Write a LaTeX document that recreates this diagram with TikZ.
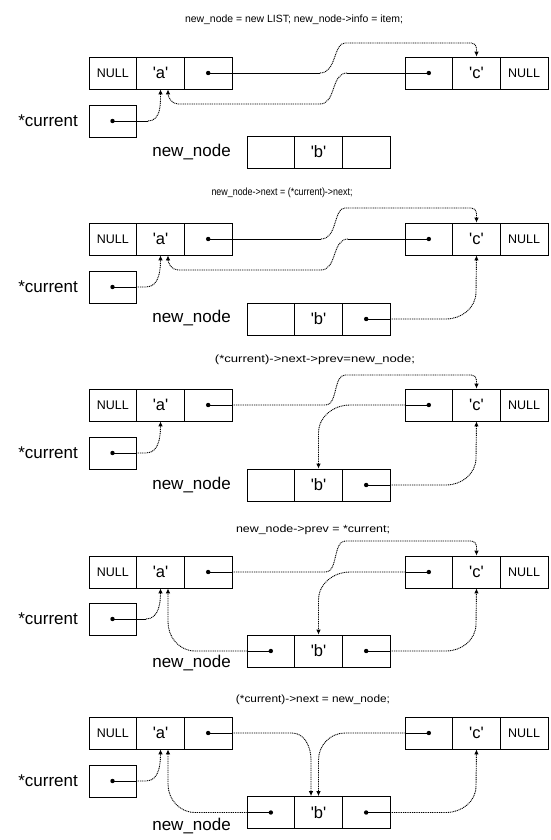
\documentclass[tikz,border=0pt]{standalone}
\usepackage{fontspec}
\usepackage{graphicx}
\setmainfont{Liberation Sans}
\usetikzlibrary{arrows.meta,calc}
\newcommand\qs{\textquotesingle}
\newcommand\NULLtxt{{\fontsize{12.5}{12.5}\selectfont NULL}}
\newcommand\mklist[6]{%
  \node[cell] (#1-l) at ({#2+23.83},#3) {#4};
  \node[cell] (#1-m) at ({#2+71.5},#3) {#5};
  \node[cell] (#1-r) at ({#2+119.17},#3) {#6};
}
\tikzset{
  cell/.style={draw=black, line width=0.8pt, minimum width=47.67pt, minimum height=32pt,
    inner sep=0pt, font=\fontsize{16.5}{16.5}\selectfont},
  curbox/.style={draw=black, line width=0.8pt, minimum width=47pt, minimum height=32pt, inner sep=0pt},
  lbl/.style={font=\fontsize{17}{17}\selectfont, inner sep=0pt},
  ttl/.style={font=\fontsize{10.5}{10.5}\selectfont, inner sep=0pt},
  link/.style={line width=0.9pt},
  dlink/.style={line width=0.9pt, dash pattern=on 1pt off 0.8pt},
  arr/.style={-{Latex[length=5pt,width=4.5pt]}},
  ptdot/.style={fill=black}
}
\begin{document}
\begin{tikzpicture}[x=1pt,y=-1pt]
\useasboundingbox[fill=white] (0,0) rectangle (550,840);

% ================= Panel 1 =================
\node[ttl] (p1t) at (294,20) {\resizebox{218pt}{\height}{new\_node = new LIST; new\_node->info = item;}};
\mklist{p1A}{89}{73}{\NULLtxt}{\qs a\qs}{}
\mklist{p1C}{405}{73}{}{\qs c\qs}{\NULLtxt}
\node[curbox] (p1cur) at (112.5,121) {};
\node[lbl, anchor=base east] (p1cl) at (78,126.5) {*current};
\mklist{p1N}{247}{152}{}{\qs b\qs}{}
\node[lbl, anchor=base east] (p1nl) at (231,157) {new\_node};
\fill[ptdot] (p1A-r.center) circle[radius=2.2pt];
\fill[ptdot] (p1C-l.center) circle[radius=2.2pt];
\fill[ptdot] (p1cur.center) circle[radius=2.2pt];
\draw[link] (p1A-r.center) -- (320,73);
\draw[dlink,arr,rounded corners=5pt] (320,73) to[out=0,in=180] (350,43) -| (p1C-m.north);
\draw[link] (p1C-l.center) -- (347,73);
\draw[dlink,arr] (347,73) to[out=180,in=0] (320,104) -- (178,104) to[out=180,in=-90] ($(p1A-m.south)+(7.5,0)$);
\draw[link] (p1cur.center) -- (148,121);
\draw[dlink,arr] (148,121) to[out=0,in=-90] (p1A-m.south);

% ================= Panel 2 =================
\node[ttl] (p2t) at (282,193) {\resizebox{141pt}{\height}{new\_node->next = (*current)->next;}};
\mklist{p2A}{89}{239}{\NULLtxt}{\qs a\qs}{}
\mklist{p2C}{405}{239}{}{\qs c\qs}{\NULLtxt}
\node[curbox] (p2cur) at (112.5,287) {};
\node[lbl, anchor=base east] (p2cl) at (78,292.5) {*current};
\mklist{p2N}{247}{319}{}{\qs b\qs}{}
\node[lbl, anchor=base east] (p2nl) at (231,322.7) {new\_node};
\fill[ptdot] (p2A-r.center) circle[radius=2.2pt];
\fill[ptdot] (p2C-l.center) circle[radius=2.2pt];
\fill[ptdot] (p2cur.center) circle[radius=2.2pt];
\fill[ptdot] (p2N-r.center) circle[radius=2.2pt];
\draw[link] (p2A-r.center) -- (321,239);
\draw[dlink,arr,rounded corners=5pt] (321,239) to[out=0,in=180] (350,208) -| (p2C-m.north);
\draw[link] (p2C-l.center) -- (348,239);
\draw[dlink,arr] (348,239) to[out=180,in=0] (321,270) -- (178,270) to[out=180,in=-90] ($(p2A-m.south)+(7.5,0)$);
\draw[link] (p2cur.center) -- (p2cur.east);
\draw[dlink,arr] (p2cur.east) -- (146,287) to[out=0,in=-90] (p2A-m.south);
\draw[link] (p2N-r.center) -- (p2N-r.east);
\draw[dlink,arr] (p2N-r.east) -- (446,319) to[out=0,in=-90] (476,292) -- (p2C-m.south);

% ================= Panel 3 =================
\node[ttl] (p3t) at (315,360) {\resizebox{200pt}{\height}{(*current)->next->prev=new\_node;}};
\mklist{p3A}{89}{405}{\NULLtxt}{\qs a\qs}{}
\mklist{p3C}{405}{405}{}{\qs c\qs}{\NULLtxt}
\node[curbox] (p3cur) at (112.5,453) {};
\node[lbl, anchor=base east] (p3cl) at (78,458.5) {*current};
\mklist{p3N}{247}{485}{}{\qs b\qs}{}
\node[lbl, anchor=base east] (p3nl) at (231,489.3) {new\_node};
\fill[ptdot] (p3A-r.center) circle[radius=2.2pt];
\fill[ptdot] (p3C-l.center) circle[radius=2.2pt];
\fill[ptdot] (p3cur.center) circle[radius=2.2pt];
\fill[ptdot] (p3N-r.center) circle[radius=2.2pt];
\draw[link] (p3A-r.center) -- (p3A-r.east);
\draw[dlink,arr,rounded corners=5pt] (p3A-r.east) -- (321,405) to[out=0,in=180] (350,375) -| (p3C-m.north);
\draw[link] (p3C-l.center) -- (p3C-l.west);
\draw[dlink,arr] (p3C-l.west) -- (350,405) to[out=180,in=90] (318.5,433) -- (p3N-m.north);
\draw[link] (p3cur.center) -- (p3cur.east);
\draw[dlink,arr] (p3cur.east) -- (146,453) to[out=0,in=-90] (p3A-m.south);
\draw[link] (p3N-r.center) -- (p3N-r.east);
\draw[dlink,arr] (p3N-r.east) -- (446,485) to[out=0,in=-90] (476,458) -- (p3C-m.south);

% ================= Panel 4 =================
\node[ttl] (p4t) at (313,530) {\resizebox{154pt}{\height}{new\_node->prev = *current;}};
\mklist{p4A}{89}{572}{\NULLtxt}{\qs a\qs}{}
\mklist{p4C}{405}{572}{}{\qs c\qs}{\NULLtxt}
\node[curbox] (p4cur) at (112.5,619) {};
\node[lbl, anchor=base east] (p4cl) at (78,624.5) {*current};
\mklist{p4N}{247}{651}{}{\qs b\qs}{}
\node[lbl, anchor=base east] (p4nl) at (231,667) {new\_node};
\fill[ptdot] (p4A-r.center) circle[radius=2.2pt];
\fill[ptdot] (p4C-l.center) circle[radius=2.2pt];
\fill[ptdot] (p4cur.center) circle[radius=2.2pt];
\fill[ptdot] (p4N-l.center) circle[radius=2.2pt];
\fill[ptdot] (p4N-r.center) circle[radius=2.2pt];
\draw[link] (p4A-r.center) -- (p4A-r.east);
\draw[dlink,arr,rounded corners=5pt] (p4A-r.east) -- (321,572) to[out=0,in=180] (350,541) -| (p4C-m.north);
\draw[link] (p4C-l.center) -- (p4C-l.west);
\draw[dlink,arr] (p4C-l.west) -- (350,572) to[out=180,in=90] (318.5,600) -- (p4N-m.north);
\draw[link] (p4cur.center) -- (146,619);
\draw[dlink,arr] (146,619) to[out=0,in=-90] (p4A-m.south);
\draw[link] (p4N-l.center) -- (p4N-l.west);
\draw[dlink,arr] (p4N-l.west) -- (195,651) to[out=180,in=-90] (168,622) -- ($(p4A-m.south)+(7.5,0)$);
\draw[link] (p4N-r.center) -- (p4N-r.east);
\draw[dlink,arr] (p4N-r.east) -- (446,651) to[out=0,in=-90] (476,624) -- (p4C-m.south);

% ================= Panel 5 =================
\node[ttl] (p5t) at (313,700) {\resizebox{154pt}{\height}{(*current)->next = new\_node;}};
\mklist{p5A}{89}{733}{\NULLtxt}{\qs a\qs}{}
\mklist{p5C}{405}{733}{}{\qs c\qs}{\NULLtxt}
\node[curbox] (p5cur) at (112.5,781) {};
\node[lbl, anchor=base east] (p5cl) at (78,786.5) {*current};
\mklist{p5N}{247}{812.5}{}{\qs b\qs}{}
\node[lbl, anchor=base east] (p5nl) at (231,830) {new\_node};
\fill[ptdot] (p5A-r.center) circle[radius=2.2pt];
\fill[ptdot] (p5C-l.center) circle[radius=2.2pt];
\fill[ptdot] (p5cur.center) circle[radius=2.2pt];
\fill[ptdot] (p5N-l.center) circle[radius=2.2pt];
\fill[ptdot] (p5N-r.center) circle[radius=2.2pt];
\draw[link] (p5A-r.center) -- (p5A-r.east);
\draw[dlink,arr] (p5A-r.east) -- (292,733) to[out=0,in=90] (311,760) -- ($(p5N-m.north)+(-7.5,0)$);
\draw[link] (p5C-l.center) -- (p5C-l.west);
\draw[dlink,arr] (p5C-l.west) -- (345,733) to[out=180,in=90] (318.5,760) -- (p5N-m.north);
\draw[link] (p5cur.center) -- (p5cur.east);
\draw[dlink,arr] (p5cur.east) -- (146,781) to[out=0,in=-90] (p5A-m.south);
\draw[link] (p5N-l.center) -- (p5N-l.west);
\draw[dlink,arr] (p5N-l.west) -- (195,812.5) to[out=180,in=-90] (168,784) -- ($(p5A-m.south)+(7.5,0)$);
\draw[link] (p5N-r.center) -- (p5N-r.east);
\draw[dlink,arr] (p5N-r.east) -- (446,812.5) to[out=0,in=-90] (476,786) -- (p5C-m.south);
\end{tikzpicture}
\end{document}
